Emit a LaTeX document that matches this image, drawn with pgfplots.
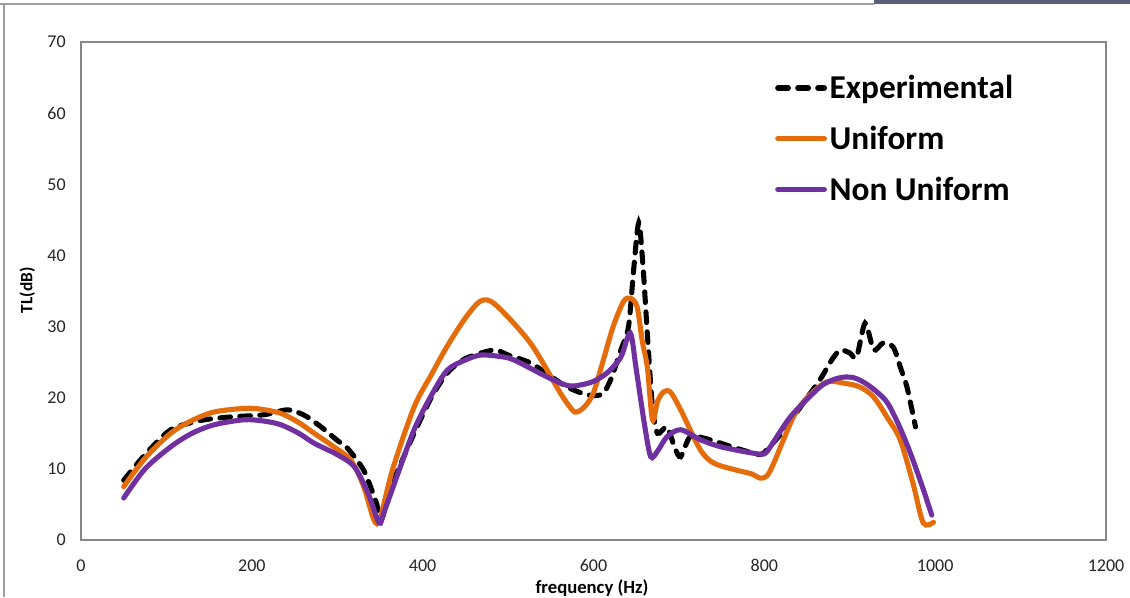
\documentclass[border=0pt]{standalone}
\usepackage{fontspec}
\setmainfont{Carlito}
\usepackage{pgfplots}
\pgfplotsset{compat=1.18}
\definecolor{exporange}{HTML}{E46C0A}
\definecolor{exppurple}{HTML}{7030A0}
\definecolor{framegray}{HTML}{868686}
\definecolor{bargray}{HTML}{5A5F7A}
\newcommand\tl[1]{{\fontsize{13.5}{15}\selectfont #1}}
\begin{document}
\begin{tikzpicture}
\useasboundingbox (0,0) rectangle (847.5pt,447.75pt);
\fill[white] (0,0) rectangle (847.5pt,447.75pt);
\draw[framegray!80,line width=1pt] (0,444.75pt) -- (655.5pt,444.75pt);
\fill[bargray] (655.5pt,444.75pt) rectangle (847.5pt,447.75pt);
\draw[framegray!80,line width=1pt] (3pt,0) -- (3pt,444.75pt);
\begin{axis}[
  scale only axis,
  width=768.75pt, height=373.5pt,
  at={(60.75pt,42.75pt)}, anchor=south west,
  xmin=0, xmax=1200, ymin=0, ymax=70,
  xtick={0,200,400,600,800,1000,1200}, ytick={0,10,20,30,40,50,60,70},
  xticklabels={\tl{0},\tl{200},\tl{400},\tl{600},\tl{800},\tl{1000},\tl{1200}},
  yticklabels={\tl{0},\tl{10},\tl{20},\tl{30},\tl{40},\tl{50},\tl{60},\tl{70}},
  major tick length=0pt,
  axis line style={framegray, line width=0.9pt},
  ticklabel style={text=black!85},
  yticklabel style={xshift=-8pt},
  xticklabel style={yshift=-11pt},
  legend style={draw=none, fill=none, at={(rel axis cs:0.677,0.939)}, anchor=north west,
    font=\fontsize{25}{30}\selectfont\bfseries, row sep=15pt, inner sep=0pt,
    /tikz/every even column/.append style={column sep=4.5pt}},
  legend cell align=left,
  legend image code/.code={\draw[#1] (0pt,0pt) -- (35pt,0pt);},
]
\addplot[black, line width=3.8pt, dash pattern=on 8pt off 7pt, line cap=round, smooth, tension=0.45] coordinates {
(50,8.4)(75,12)(105,15.5)(140,16.8)(175,17.3)(214,17.6)(242,18.3)(262,17.5)(281,15.9)(300,14)(312,12.9)(331,9.8)(345,5.5)(352,3)(360,6.5)(370,9.5)(390,15)(410,20)(429,23.5)(450,25.5)(483,26.7)(500,26)(526,24.9)(550,23)(569,21.5)(593,20.4)(610,20.5)(620,22.5)(632,26.7)(641,30)(647,38)(653,44.6)(658,38.4)(663,29)(669,18.7)(675,15)(686,15.9)(695,13)(702,11.7)(713,14.5)(730,14.3)(749,13.6)(770,12.8)(795,12)(803,12.7)(820,15)(834,17.3)(850,20)(865,22.5)(880,25.5)(889,26.7)(900,26.3)(908,25.7)(918,30.5)(928,26.7)(939,27.7)(951,27.1)(960,24)(967,21.5)(977,15.9)
};
\addlegendentry{Experimental}
\addplot[exporange, line width=3.8pt, line cap=round, smooth, tension=0.5] coordinates {
(50,7.5)(75,11.5)(105,15)(130,16.8)(156,18)(191,18.5)(210,18.4)(234,17.8)(255,16.5)(273,15)(296,13.1)(316,11.2)(331,7.5)(343,2.8)(350,3)(365,10)(390,18.7)(410,23.2)(429,27.3)(450,31.2)(468,33.6)(485,33.1)(526,27.7)(561,20.7)(575,18.3)(581,18)(590,18.8)(600,20.7)(612,25.5)(623,30)(635,33.5)(643,34)(651,32.8)(657,28)(663,24.3)(669,16.9)(675,19.5)(682,20.8)(690,20.8)(702,18.3)(725,12.7)(741,10.8)(768,9.8)(785,9.3)(795,8.7)(803,9)(811,10.8)(834,17.3)(850,20)(873,22.2)(895,22)(912,21.5)(928,20.1)(945,17)(959,14.1)(974,8)(986,2.4)(998,2.5)
};
\addlegendentry{Uniform}
\addplot[exppurple, line width=3.8pt, line cap=round, smooth, tension=0.5] coordinates {
(50,5.9)(75,10)(105,13.1)(130,15)(156,16.2)(191,16.9)(215,16.7)(234,16.2)(255,15)(273,13.6)(300,12)(320,10.3)(336,6.6)(349,2.4)(355,4)(370,9)(390,15.5)(410,20.3)(429,23.9)(450,25.3)(468,26)(490,25.8)(507,25.3)(546,22.9)(570,21.7)(585,21.8)(600,22.3)(616,23.5)(632,25.7)(643,29.1)(650,24)(660,16)(667,11.7)(675,12.5)(686,14.5)(702,15.5)(725,14.1)(749,13.1)(787,12.2)(800,12.1)(807,13.1)(820,15.5)(834,17.8)(865,21.5)(880,22.5)(893,22.9)(905,22.8)(916,22.2)(930,21)(944,19.3)(958,16)(971,12.2)(985,7.5)(996,3.5)
};
\addlegendentry{Non Uniform}
\end{axis}
\node[rotate=90, font=\fontsize{13}{15}\selectfont\bfseries] at (20.5pt,230pt) {TL(dB)};
\node[font=\fontsize{14}{16}\selectfont\bfseries] at (444pt,6.5pt) {frequency (Hz)};
\end{tikzpicture}
\end{document}
